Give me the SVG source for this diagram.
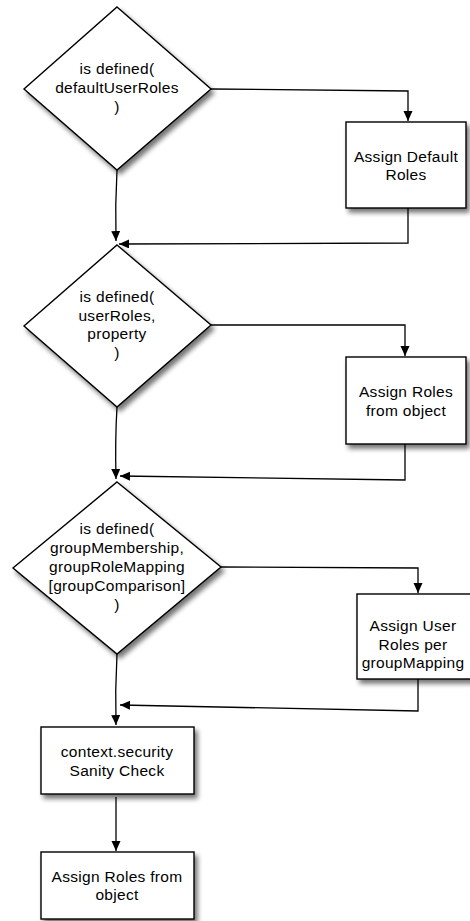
<svg xmlns="http://www.w3.org/2000/svg" width="470" height="921" viewBox="0 0 470 921">
<style>
.shape{fill:#fff;stroke:#000;stroke-width:1.4;filter:url(#sh)}
.lbl{font-family:"Liberation Sans",Arial,sans-serif;font-size:15.5px;letter-spacing:0.3px;fill:#000;text-anchor:middle}
.conn path{fill:none;stroke:#000;stroke-width:1.3;marker-end:url(#ah)}
</style>
<defs>
<filter id="sh" x="-20%" y="-20%" width="150%" height="150%">
<feGaussianBlur in="SourceAlpha" stdDeviation="2.5"/>
<feOffset dx="3" dy="4" result="b"/>
<feComponentTransfer><feFuncA type="linear" slope="0.55"/></feComponentTransfer>
<feMerge><feMergeNode/><feMergeNode in="SourceGraphic"/></feMerge>
</filter>
<marker id="ah" markerUnits="userSpaceOnUse" markerWidth="11" markerHeight="10" refX="10" refY="4.5" orient="auto">
<path d="M0,0 L10,4.5 L0,9 z" fill="#000"/>
</marker>
</defs>
<rect width="470" height="921" fill="#fff"/>
<g id="connectors" class="conn">
<path d="M211,89 L408,91 L408,121"/>
<path d="M117,170 Q115,205 116,241"/>
<path d="M408,208 L408,243 L119,244"/>
<path d="M211,325 L405,325 L405,356"/>
<path d="M117,407 Q115,440 116,479"/>
<path d="M405,444 L405,480 L120,476"/>
<path d="M221,567 L418,568 L418,593"/>
<path d="M117,654 Q115,690 116,725"/>
<path d="M418,679 L418,711 L120,705"/>
<path d="M116,797 L116,851"/>
</g>
<g id="dec1">
<polygon class="shape" points="117,7 211,89 117,170 24,89"/>
<text class="lbl" x="117" y="74">is defined(</text>
<text class="lbl" x="117" y="93">defaultUserRoles</text>
<text class="lbl" x="117" y="112">)</text>
</g>
<g id="box1">
<rect class="shape" x="346" y="122" width="120" height="86"/>
<text class="lbl" x="406" y="162">Assign Default</text>
<text class="lbl" x="406" y="180">Roles</text>
</g>
<g id="dec2">
<polygon class="shape" points="117,245 211,325 117,407 24,326"/>
<text class="lbl" x="117" y="302">is defined(</text>
<text class="lbl" x="117" y="320.5">userRoles,</text>
<text class="lbl" x="117" y="339">property</text>
<text class="lbl" x="117" y="357.5">)</text>
</g>
<g id="box2">
<rect class="shape" x="346" y="357" width="120" height="87"/>
<text class="lbl" x="406" y="397">Assign Roles</text>
<text class="lbl" x="406" y="415.5">from object</text>
</g>
<g id="dec3">
<polygon class="shape" points="117,482 221,567 117,654 13,568"/>
<text class="lbl" x="117" y="534">is defined(</text>
<text class="lbl" x="117" y="553">groupMembership,</text>
<text class="lbl" x="117" y="572">groupRoleMapping</text>
<text class="lbl" x="117" y="591">[groupComparison]</text>
<text class="lbl" x="117" y="610">)</text>
</g>
<g id="box3">
<rect class="shape" x="357" y="594" width="120" height="85"/>
<text class="lbl" x="413" y="631">Assign User</text>
<text class="lbl" x="413" y="649.5">Roles per</text>
<text class="lbl" x="413" y="668">groupMapping</text>
</g>
<g id="box4">
<rect class="shape" x="41" y="727" width="153" height="67"/>
<text class="lbl" x="117" y="757">context.security</text>
<text class="lbl" x="117" y="775.5">Sanity Check</text>
</g>
<g id="box5">
<rect class="shape" x="41" y="852" width="153" height="67"/>
<text class="lbl" x="117" y="882">Assign Roles from</text>
<text class="lbl" x="117" y="900">object</text>
</g>
</svg>
